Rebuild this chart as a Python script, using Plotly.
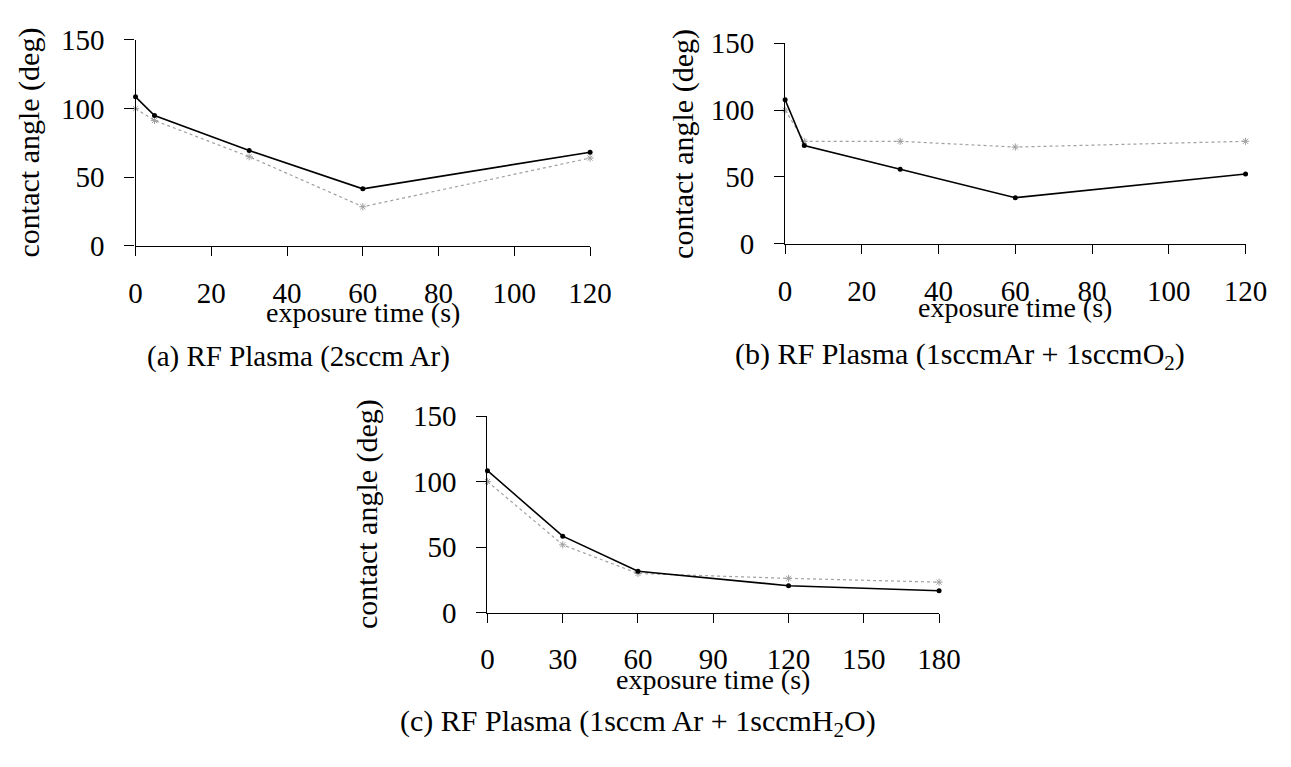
import plotly.graph_objects as go

# ---- data ----
time_ab = [0, 5, 30, 60, 120]
a_solid = [108.6, 95.0, 69.5, 41.6, 68.3]
a_dotted = [100.0, 91.4, 65.0, 28.6, 64.0]
b_solid = [107.7, 73.4, 55.7, 34.4, 52.1]
b_dotted = [100.0, 76.6, 76.6, 72.3, 76.6]
time_c = [0, 30, 60, 120, 180]
c_solid = [108.3, 58.3, 31.5, 20.5, 16.6]
c_dotted = [100.0, 51.7, 29.8, 26.1, 23.2]
y_ticks = [0, 50, 100, 150]
x_ticks_ab = [0, 20, 40, 60, 80, 100, 120]
x_ticks_c = [0, 30, 60, 90, 120, 150, 180]
captions = ["(a) RF Plasma (2sccm Ar)",
            "(b) RF Plasma (1sccmAr + 1sccmO<sub>2</sub>)",
            "(c) RF Plasma (1sccm Ar + 1sccmH<sub>2</sub>O)"]
x_title = "exposure time (s)"
y_title = "contact angle (deg)"

W, H = 1291, 767
FONT = "Liberation Serif"

def px_x(p):
    return p / W

def px_y(p):
    return 1 - p / H

fig = go.Figure()

panels = [
    ("x", "y", time_ab, a_solid, a_dotted),
    ("x2", "y2", time_ab, b_solid, b_dotted),
    ("x3", "y3", time_c, c_solid, c_dotted),
]
for xa, ya, t, s, d in panels:
    fig.add_trace(go.Scatter(x=t, y=d, xaxis=xa, yaxis=ya, mode="lines+markers",
                             line=dict(color="#a0a0a0", width=1.2, dash="dot"),
                             marker=dict(symbol="asterisk-open", size=6,
                                         line=dict(color="#8a8a8a", width=1)),
                             cliponaxis=False, showlegend=False))
    fig.add_trace(go.Scatter(x=t, y=s, xaxis=xa, yaxis=ya, mode="lines+markers",
                             line=dict(color="black", width=1.6),
                             marker=dict(symbol="circle", size=5, color="black"),
                             cliponaxis=False, showlegend=False))

axis_common = dict(showgrid=False, zeroline=False, showline=True,
                   linecolor="black", linewidth=1.3, ticks="outside",
                   tickcolor="black", tickwidth=1.3,
                   tickfont=dict(family=FONT, size=29, color="black"))

# pixel positions of plot areas: (left, right, top, bottom)
boxes = [(131.5, 596.5, 25, 240), (796, 1267, 28.5, 237.5), (491.5, 953.5, 417.5, 622.5)]
xranges = [[0, 120], [0, 120], [0, 180]]
xticks = [x_ticks_ab, x_ticks_ab, x_ticks_c]
names = [("xaxis", "yaxis", "y", "x"), ("xaxis2", "yaxis2", "y2", "x2"), ("xaxis3", "yaxis3", "y3", "x3")]

layout = {}
for (xn, yn, yanc, xanc), (l, r, tp, bt), xr, xt in zip(names, boxes, xranges, xticks):
    layout[xn] = dict(axis_common, domain=[px_x(l), px_x(r)], range=xr,
                      tickvals=xt, ticklen=9, ticklabelstandoff=12, anchor=yanc)
    layout[yn] = dict(axis_common, domain=[px_y(bt), px_y(tp)], range=[0, 150],
                      tickvals=y_ticks, ticklen=10, ticklabelstandoff=14, anchor=xanc)

fig.update_layout(**layout)

annots = []
# x titles
for (l, r, tp, bt), yc in zip(boxes, [309, 304, 692]):
    annots.append(dict(text=x_title, x=px_x((l + r) / 2), y=px_y(yc), xref="paper", yref="paper",
                       showarrow=False, xanchor="center", yanchor="middle",
                       font=dict(family=FONT, size=28, color="black")))
# y titles
for (l, r, tp, bt), xc in zip(boxes, [22, 692, 369]):
    annots.append(dict(text=y_title, x=px_x(xc), y=px_y((tp + bt) / 2), xref="paper", yref="paper",
                       showarrow=False, xanchor="center", yanchor="middle", textangle=-90,
                       font=dict(family=FONT, size=30, color="black")))
# captions
for cap, (xc, yc), fs in zip(captions, [(298, 355), (975, 355), (645, 738)], [29, 30, 30]):
    annots.append(dict(text=cap, x=px_x(xc), y=px_y(yc), xref="paper", yref="paper",
                       showarrow=False, xanchor="center", yanchor="middle",
                       font=dict(family=FONT, size=fs, color="black")))

fig.update_layout(width=W, height=H, margin=dict(l=0, r=0, t=0, b=0),
                  paper_bgcolor="white", plot_bgcolor="white",
                  annotations=annots, showlegend=False)

fig.write_html("out.html")
